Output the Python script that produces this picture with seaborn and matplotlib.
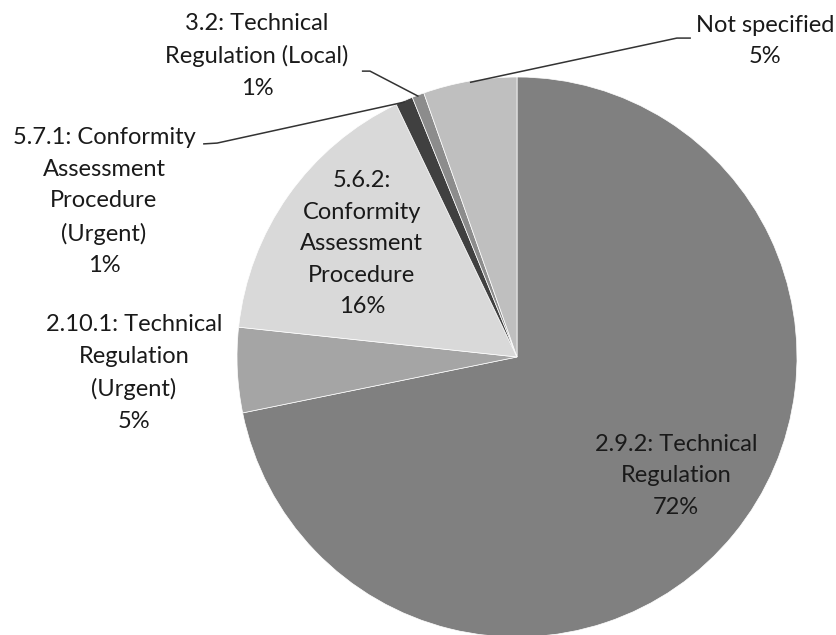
import numpy as np
import seaborn as sns
import matplotlib.pyplot as plt

### Data: share of notifications by article (clockwise from 12 o'clock)
categories = [
    "2.9.2: Technical\nRegulation",
    "2.10.1: Technical\nRegulation\n(Urgent)",
    "5.6.2:\nConformity\nAssessment\nProcedure",
    "5.7.1: Conformity\nAssessment\nProcedure\n(Urgent)",
    "3.2: Technical\nRegulation (Local)",
    "Not specified",
]
shares = [71.8, 4.9, 16.2, 1.0, 0.7, 5.4]
colors = ["#808080", "#a5a5a5", "#d9d9d9", "#404040", "#8c8c8c", "#bfbfbf"]

### Label layout (pie units, radius = 1, center = 0,0)
label_pos = [(0.568, -0.425), (-1.368, -0.057), (-0.554, 0.404),
             (-1.475, 0.554), (-0.929, 1.075), (0.886, 1.129)]
# leader line start/elbow for the outside labels (index -> points)
leaders = {
    3: [(-1.121, 0.761), (-1.071, 0.764)],
    4: [(-0.554, 1.021), (-0.525, 1.021)],
    5: [(0.621, 1.139), (0.571, 1.139)],
}

sns.set_style("white")
plt.rcParams['font.family'] = ['Lato', 'DejaVu Sans']

W, H, R = 837, 635, 280.0
cx, cy = 517, 357
fig = plt.figure(figsize=(W / 100, H / 100), dpi=100)
ax = fig.add_axes([0, 0, 1, 1])

wedges, _ = ax.pie(shares, colors=colors, startangle=90, counterclock=False,
                   radius=1, center=(0, 0),
                   wedgeprops=dict(linewidth=0.5, edgecolor="white"))

ax.set_xlim(-cx / R, (W - cx) / R)
ax.set_ylim((cy - H) / R, cy / R)
ax.set_aspect("equal")
ax.axis("off")

for i, (lab, val) in enumerate(zip(categories, shares)):
    x, y = label_pos[i]
    ax.text(x, y, f"{lab}\n{val:.0f}%", ha="center", va="center",
            fontsize=17, color="#1a1a1a", linespacing=1.62)
    if i in leaders:
        w = wedges[i]
        ang = np.deg2rad((w.theta1 + w.theta2) / 2)
        end = (np.cos(ang) * 0.995, np.sin(ang) * 0.995)
        pts = leaders[i] + [end]
        ax.plot([p[0] for p in pts], [p[1] for p in pts], color="#333333",
                lw=1.1, solid_capstyle="butt")

fig.savefig("out.png", dpi=100)
